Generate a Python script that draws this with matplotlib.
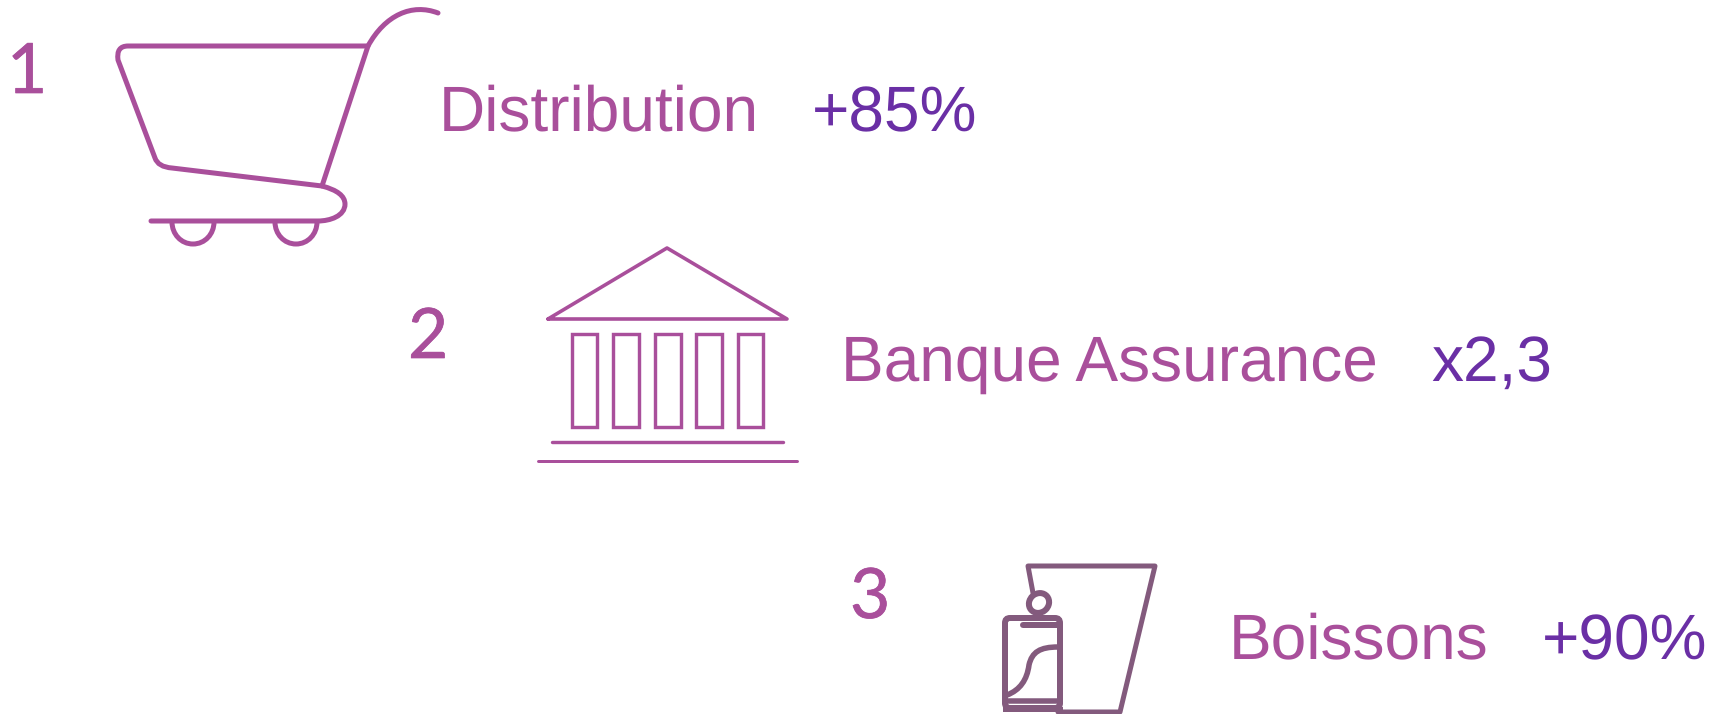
import matplotlib
matplotlib.use("Agg")
import matplotlib.pyplot as plt
import matplotlib.patheffects as pe
from matplotlib.path import Path
from matplotlib.patches import PathPatch, Rectangle, Ellipse, FancyBboxPatch

ranks = ["1", "2", "3"]
sectors = ["Distribution", "Banque Assurance", "Boissons"]
growth = ["+85%", "x2,3", "+90%"]

PINK = "#A94F9B"
PURPLE = "#6A2FA5"
CAN = "#835A7D"

plt.rcParams["text.hinting"] = "no_hinting"
plt.rcParams["text.hinting_factor"] = 1

fig = plt.figure(figsize=(17.13, 7.14), dpi=100)
ax = fig.add_axes([0, 0, 1, 1])
ax.set_xlim(0, 1713)
ax.set_ylim(714, 0)
ax.axis("off")


def px(w):
    return w * 0.72


def draw(points, codes, color=PINK, w=5):
    ax.add_patch(PathPatch(Path(points, codes), fill=False, edgecolor=color,
                           lw=px(w), capstyle="round", joinstyle="round"))


M, L, C3, C4 = Path.MOVETO, Path.LINETO, Path.CURVE3, Path.CURVE4

# cart
draw([(368, 46), (128, 46), (116, 46), (118, 60), (155, 158), (158, 167), (172, 168),
      (322, 186), (345, 192), (345, 204), (345, 216), (330, 221), (318, 221), (151, 221)],
     [M, L, C3, C3, L, C3, C3, L, C3, C3, C4, C4, C4, L])
draw([(438, 13), (412, 3), (385, 15), (368, 46), (322, 186)], [M, C4, C4, C4, L])
for cx in (193, 296):
    draw([(cx - 21, 222), (cx - 21, 234), (cx - 12, 244), (cx, 244),
          (cx + 12, 244), (cx + 21, 234), (cx + 21, 222)],
         [M, C4, C4, C4, C4, C4, C4])

# bank
draw([(548, 319), (667, 248), (787, 319), (548, 319)], [M, L, L, L], w=3.6)
for x0, x1 in [(572, 597), (613, 639), (655, 681), (696, 722), (738, 763)]:
    ax.add_patch(Rectangle((x0, 334), x1 - x0, 93, fill=False, edgecolor=PINK, lw=px(3.4)))
ax.plot([552, 783], [442, 442], color=PINK, lw=px(3.4), solid_capstyle="round")
ax.plot([538, 797], [461, 461], color=PINK, lw=px(3), solid_capstyle="round")

# bucket + can
draw([(1033, 593), (1028, 566), (1155, 566), (1120, 712), (1058, 712)], [M, L, L, L, L],
     color=CAN, w=5)
ax.add_patch(Ellipse((1039, 603), 21, 19, angle=-40, fill=False, edgecolor=CAN, lw=px(6)))
ax.add_patch(FancyBboxPatch((1005, 618), 55, 90, boxstyle="round,pad=0,rounding_size=5",
                            facecolor="white", edgecolor=CAN, lw=px(6), zorder=3))
ax.plot([1023, 1060], [624.5, 624.5], color=CAN, lw=px(6), solid_capstyle="round", zorder=4)
ax.plot([1005, 1060], [701, 701], color=CAN, lw=px(5.5), zorder=4)
ax.plot([1005, 1060], [709, 709], color=CAN, lw=px(5), zorder=4)
ax.add_patch(PathPatch(Path([(1007, 695), (1020, 690), (1027, 680), (1029, 665),
                             (1032, 652), (1040, 647), (1058, 647)],
                            [M, C4, C4, C4, C4, C4, C4]),
                       fill=False, edgecolor=CAN, lw=px(5.5), zorder=4))

# text
rank_x = [27, 428, 870]
rank_y = [93, 358, 618]
sector_x = [439, 841, 1229]
pct_x = [812, 1431, 1542]
base_y = [131, 381, 659]

for i in range(3):
    ax.text(rank_x[i], rank_y[i], ranks[i], color=PINK, family="Lato", fontsize=50,
            ha="center", va="baseline",
            path_effects=[pe.withStroke(linewidth=0.5, foreground=PINK)])
    ax.text(sector_x[i], base_y[i], sectors[i], color=PINK, family="Liberation Sans",
            fontsize=46, ha="left", va="baseline")
    ax.text(pct_x[i], base_y[i], growth[i], color=PURPLE, family="Liberation Sans",
            fontsize=46, ha="left", va="baseline")

fig.savefig("out.png", dpi=100, facecolor="white")
